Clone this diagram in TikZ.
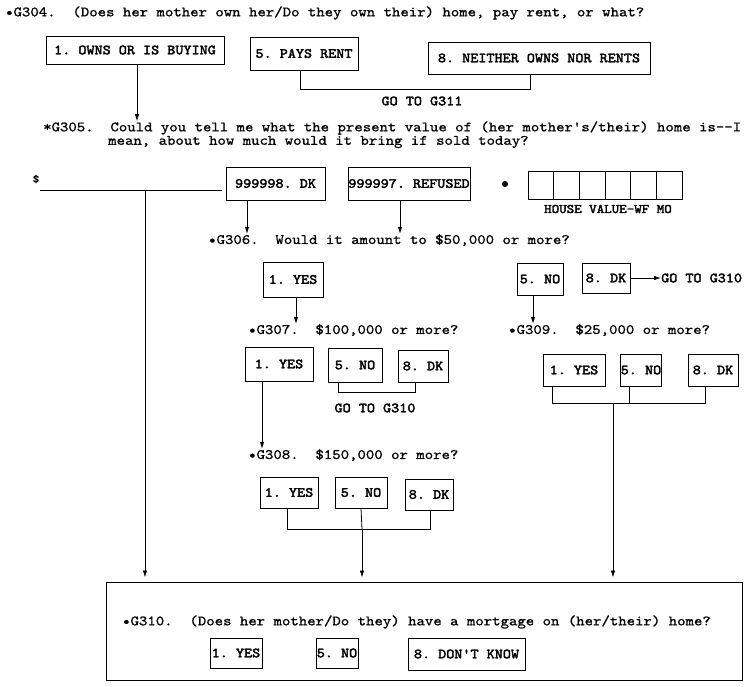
\documentclass[tikz,border=0pt]{standalone}
\usepackage{fontspec}
\newfontfamily\cour{lmmono10-regular.otf}[FakeStretch=1.12, FakeBold=1]
\newfontfamily\courb{lmmono10-regular.otf}[FakeStretch=1.1, FakeBold=2.6]
\usetikzlibrary{arrows.meta}
\begin{document}
\frenchspacing
\begin{tikzpicture}[x=1pt,y=-1pt,
  every node/.style={inner sep=0pt},
  q/.style={anchor=west, font=\cour\fontsize{14.3}{16}\selectfont},
  lab/.style={font=\courb\fontsize{14}{15}\selectfont},
  box/.style={draw, line width=0.8pt, lab},
  ln/.style={line width=0.8pt},
  arr/.style={ln, -{Latex[length=7pt,width=4.5pt]}}]
\useasboundingbox (0,0) rectangle (750,687);
\newcommand\bx[6]{\node[box, minimum width={#3pt-#2pt}, minimum height={#5pt-#4pt}] (#1) at ({(#2+#3)/2},{(#4+#5)/2}) {#6};}

% G304
\node[q] (q304) at (5,13) {•G304.~~(Does her mother own her/Do they own their) home, pay rent, or what?};
\bx{b304a}{46}{224}{36}{64}{1. OWNS OR IS BUYING}
\bx{b304b}{250}{358}{37}{70}{5. PAYS RENT}
\bx{b304c}{428}{650}{42}{74}{8. NEITHER OWNS NOR RENTS}
\draw[ln] ([xshift=-4pt]b304b.south) -- ++(0,19) -| ([xshift=-9pt]b304c.south);
\node[lab] (go311) at (422,101) {GO TO G311};

% G305
\node[q] (q305) at (43,128) {*G305.~~Could you tell me what the present value of (her mother's/their) home is--I};
\node[q] (q305b) at (108,142) {mean, about how much would it bring if sold today?};
\draw[arr] ([xshift=2pt]b304a.south) -- ([xshift=2pt]b304a.south |- q305.north);
\node[font=\cour\fontsize{11}{12}\selectfont] (dollar) at (36,179) {\$};
\coordinate (dl0) at (40,190);
\coordinate (dl1) at (222,190);
\coordinate (dl) at (145,190);
\draw[ln] (dl0) -- (dl1);
\bx{b998}{226}{325}{167}{200}{999998. DK}
\bx{b997}{348}{470}{167}{200}{999997. REFUSED}
\fill (505,184) circle (3);
\foreach \i in {0,...,5} \draw[ln] ({528+25.67*\i},171) rectangle ({528+25.67*(\i+1)},199);
\node[font=\courb\fontsize{13}{14}\selectfont] (hv) at (608,209) {HOUSE VALUE-WF MO};

% G306
\node[q] (q306) at (208,240) {•G306.~~Would it amount to \$50,000 or more?};
\draw[arr] ([xshift=-28.5pt]b998.south) -- ([xshift=-28.5pt]b998.south |- q306.north);
\draw[arr] ([xshift=-9pt]b997.south) -- ([xshift=-9pt]b997.south |- q306.north);
\bx{bY306}{263}{323}{262}{297}{1. YES}
\bx{bN306}{517}{563}{263}{295}{5. NO}
\bx{bD306}{582}{630}{263}{293}{8. DK}
\node[lab, anchor=west] (goR) at (661,278) {GO TO G310};
\draw[arr] (bD306.east) -- (goR.west);

% G307
\node[q] (q307) at (248,330) {•G307.~~\$100,000 or more?};
\draw[arr] ([xshift=3pt]bY306.south) -- ([xshift=3pt]bY306.south |- q307.north);
\bx{bY307}{245}{313}{347}{381}{1. YES}
\bx{bN307}{328}{382}{348}{382}{5. NO}
\bx{bD307}{398}{448}{350}{382}{8. DK}
\draw[ln] ([xshift=-17pt]bN307.south) -- ++(0,10) -| ([xshift=-8pt]bD307.south);
\node[lab] (go307) at (375,408) {GO TO G310};

% G309
\node[q] (q309) at (508,330) {•G309.~~\$25,000 or more?};
\draw[arr] ([xshift=-7pt]bN306.south) -- ([xshift=-7pt]bN306.south |- q309.north);
\bx{bY309}{543}{605}{354}{386}{1. YES}
\bx{bN309}{621}{661}{354}{386}{5. NO}
\bx{bD309}{688}{738}{354}{386}{8. DK}
\draw[ln] ([xshift=-22pt]bY309.south) -- ++(0,17) -| ([xshift=-8pt]bD309.south);
\draw[ln] ([xshift=-12pt]bN309.south) -- ++(0,17);
\coordinate (j309) at (613,403);

% G308
\node[q] (q308) at (248,455) {•G308.~~\$150,000 or more?};
\draw[arr] ([xshift=-17pt]bY307.south) -- ([xshift=-17pt]bY307.south |- q308.north);
\bx{bY308}{260}{318}{477}{508}{1. YES}
\bx{bN308}{335}{387}{477}{508}{5. NO}
\bx{bD308}{405}{453}{479}{510}{8. DK}
\draw[ln] ([xshift=-2pt]bY308.south) -- ++(0,21) -| ([xshift=1pt]bD308.south);
\coordinate (j308) at (362,529);
\draw[ln] (bN308.south) -- (j308);

% G310
\node[draw, line width=1pt, minimum width=636pt, minimum height=98pt] (g310) at (424,631) {};
\draw[arr, shorten >=4pt] (dl) -- (dl |- g310.north);
\draw[arr, shorten >=4pt] (j308) -- (j308 |- g310.north);
\draw[arr, shorten >=4pt] (j309) -- (j309 |- g310.north);
\node[q] (q310) at (122,622) {•G310.~~(Does her mother/Do they) have a mortgage on (her/their) home?};
\bx{bY310}{210}{262}{638}{668}{1. YES}
\bx{bN310}{316}{358}{638}{668}{5. NO}
\bx{bD310}{408}{525}{638}{670}{8. DON'T KNOW}
\end{tikzpicture}
\end{document}
